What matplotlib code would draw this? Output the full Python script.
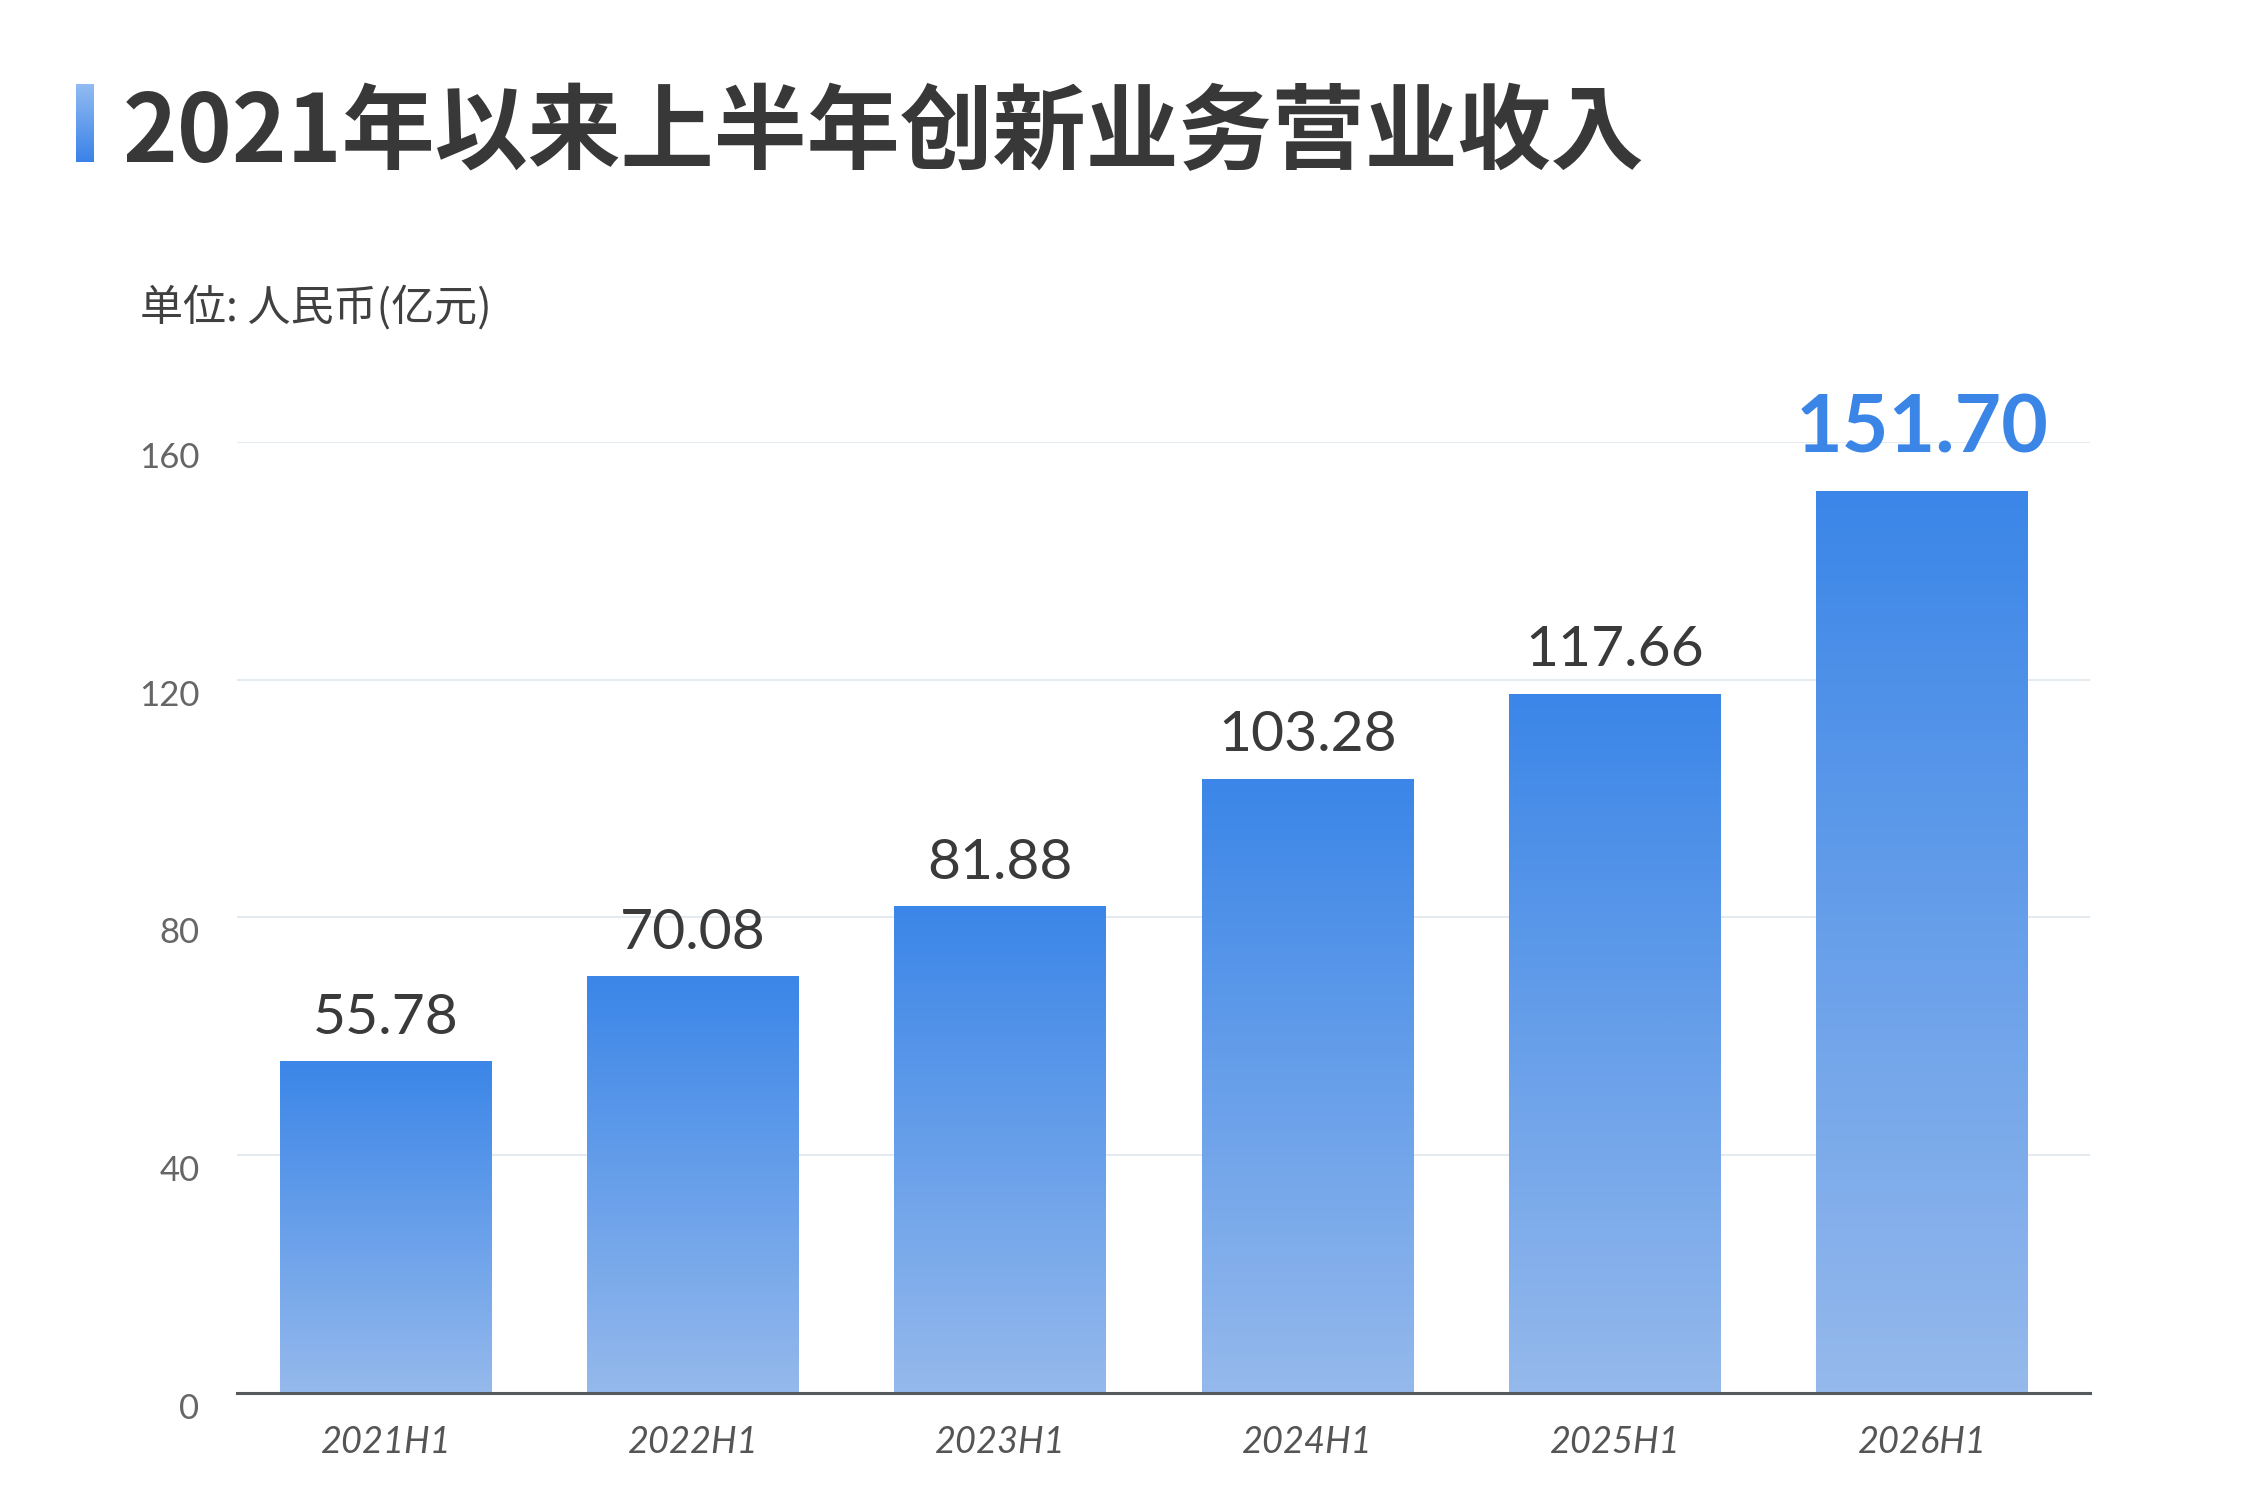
import numpy as np
import matplotlib
matplotlib.use("Agg")
import matplotlib.pyplot as plt
from matplotlib.colors import LinearSegmentedColormap
from matplotlib.transforms import ScaledTranslation
from matplotlib import font_manager as fm

# ---------------- data ----------------
categories = ["2021H1", "2022H1", "2023H1", "2024H1", "2025H1", "2026H1"]
revenue = [55.78, 70.08, 81.88, 103.28, 117.66, 151.70]
value_labels = ["55.78", "70.08", "81.88", "103.28", "117.66", "151.70"]
y_ticks = [0, 40, 80, 120, 160]
title_text = "2021年以来上半年创新业务营业收入"
unit_text = "单位: 人民币(亿元)"

# ---------------- fonts ----------------
available = {f.name for f in fm.fontManager.ttflist}
def pick(*names):
    for n in names:
        if n in available:
            return n
    return "DejaVu Sans"

cjk = pick("Noto Sans CJK SC", "Noto Sans CJK JP")
num_font = pick("Lato", "Roboto", "Open Sans")

plt.rcParams["font.family"] = [cjk, "DejaVu Sans"]

TOP_BLUE = "#3B86E8"
BOTTOM_BLUE = "#95B9EC"
DARK = "#383838"

fig = plt.figure(figsize=(22.5, 15.12), dpi=100)
fig.patch.set_facecolor("white")

ax = fig.add_axes([0.1053, 0.0787, 0.8236, 0.6290])
x = np.arange(len(categories))
bars = ax.bar(x, revenue, width=0.69, color=TOP_BLUE, zorder=2)

cmap = LinearSegmentedColormap.from_list("grad", [BOTTOM_BLUE, TOP_BLUE])
grad = np.linspace(0, 1, 256).reshape(-1, 1)
for b in bars:
    x0 = b.get_x()
    x1 = x0 + b.get_width()
    h = b.get_height()
    im = ax.imshow(grad, cmap=cmap, origin="lower", aspect="auto",
                   extent=[x0, x1, 0, h], zorder=3, interpolation="bicubic")
    im.set_clip_path(b)

ax.set_xlim(-0.485, 5.547)
ax.set_ylim(0, 160)

# grid & spines
ax.set_yticks(y_ticks)
ax.yaxis.grid(True, color="#E4EAF0", linewidth=1.5, zorder=0)
ax.set_axisbelow(True)
for s in ["top", "right", "left"]:
    ax.spines[s].set_visible(False)
ax.spines["bottom"].set_color("#55595E")
ax.spines["bottom"].set_linewidth(2.2)
ax.spines["bottom"].set_zorder(5)
ax.tick_params(axis="both", length=0)

ax.set_yticklabels([str(v) for v in y_ticks], fontsize=25, color="#666666",
                   family=[num_font, "DejaVu Sans"], fontweight="normal")
ax.tick_params(axis="y", pad=27)
off = ScaledTranslation(0, -0.13, fig.dpi_scale_trans)
for lbl in ax.get_yticklabels():
    lbl.set_transform(lbl.get_transform() + off)

ax.set_xticks(x)
ax.set_xticklabels(categories, fontsize=26, color="#555555", style="italic",
                   family=[num_font, "DejaVu Sans"])
ax.tick_params(axis="x", pad=24)

# value labels
for i, (xi, v, s) in enumerate(zip(x, revenue, value_labels)):
    if i == len(revenue) - 1:
        ax.annotate(s, (xi, v), xytext=(0, 28), textcoords="offset points",
                    ha="center", va="baseline", fontsize=58, fontweight="bold",
                    color="#3A85E6", family=[num_font, "DejaVu Sans"],
                    annotation_clip=False, zorder=6)
    else:
        ax.annotate(s, (xi, v), xytext=(0, 20), textcoords="offset points",
                    ha="center", va="baseline", fontsize=41,
                    color="#3A3A3A", family=[num_font, "DejaVu Sans"],
                    annotation_clip=False, zorder=6)

# title with gradient accent bar
bar_ax = fig.add_axes([0.0338, 0.8929, 0.0076, 0.0516])
bar_cmap = LinearSegmentedColormap.from_list("tb", ["#3A82E8", "#93BCF2"])
bar_ax.imshow(grad, cmap=bar_cmap, origin="lower", aspect="auto",
              extent=[0, 1, 0, 1])
bar_ax.set_axis_off()

fig.text(0.0547, 0.8929, title_text, fontsize=67, fontweight="bold",
         color=DARK, ha="left", va="baseline", family=[cjk, "DejaVu Sans"])
fig.text(0.0622, 0.7877, unit_text, fontsize=31, color="#404040",
         ha="left", va="baseline", family=[cjk, "DejaVu Sans"])

fig.savefig("out.png", dpi=100, facecolor="white")
